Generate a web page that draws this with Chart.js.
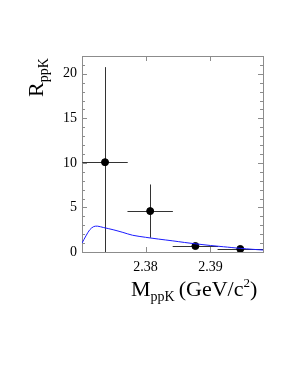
<!DOCTYPE html>
<html lang="en">
<head>
  <meta charset="UTF-8">
  <title>R ppK vs M ppK</title>
  <style>
    body { margin: 0; background: #fff; }
    #wrap { width: 291px; height: 376px; }
  </style>
  <script src="https://cdn.jsdelivr.net/npm/chart.js@4.4.0/dist/chart.umd.min.js"></script>
</head>
<body>
  <div id="wrap"><canvas id="chart" width="291" height="376"></canvas></div>
  <script>
    // measured points with errors
    const massPoints = [2.37375, 2.38071, 2.38768, 2.3946];
    const ratioValues = [10.08, 4.59, 0.67, 0.34];
    const ratioErrUp = [10.67, 2.99, 0.3, 0.25];
    const ratioErrDown = [10.08, 2.99, 0.3, 0.25];
    const massHalfWidth = [0.0035, 0.0035, 0.0035, 0.0035];

    // model curve
    const curveMass = [2.3702, 2.3708, 2.3714, 2.3720, 2.3726, 2.3735, 2.3750, 2.3765, 2.3780,
      2.3800, 2.3820, 2.3842, 2.3860, 2.3877, 2.3900, 2.3920, 2.3946, 2.3965, 2.3982];
    const curveRatio = [1.0, 1.8, 2.5, 2.85, 2.9, 2.75, 2.5, 2.2, 1.88,
      1.65, 1.45, 1.25, 1.07, 0.92, 0.73, 0.59, 0.41, 0.3, 0.22];

    const xTicks = [2.38, 2.39];
    const yTicks = [0, 5, 10, 15, 20];
    const yMinorTicks = [1, 2, 3, 4, 6, 7, 8, 9, 11, 12, 13, 14, 16, 17, 18, 19, 21];

    const serif = "'Liberation Serif', 'DejaVu Serif', serif";

    // frame, tick marks, error bars and axis titles
    const decorations = {
      id: 'decorations',
      beforeDatasetsDraw(chart) {
        const ctx = chart.ctx;
        const a = chart.chartArea;
        const xs = chart.scales.x;
        const ys = chart.scales.y;
        ctx.save();
        ctx.strokeStyle = '#8c8c8c';
        ctx.lineWidth = 1;
        ctx.strokeRect(a.left + 0.5, a.top + 0.5, a.right - a.left, a.bottom - a.top);
        ctx.beginPath();
        yTicks.forEach(v => {
          const y = Math.round(ys.getPixelForValue(v)) + 0.5;
          ctx.moveTo(a.left, y); ctx.lineTo(a.left + 5, y);
          ctx.moveTo(a.right, y); ctx.lineTo(a.right - 5, y);
        });
        yMinorTicks.forEach(v => {
          const y = Math.round(ys.getPixelForValue(v)) + 0.5;
          ctx.moveTo(a.left, y); ctx.lineTo(a.left + 3, y);
          ctx.moveTo(a.right, y); ctx.lineTo(a.right - 3, y);
        });
        xTicks.forEach(v => {
          const x = Math.round(xs.getPixelForValue(v)) + 0.5;
          ctx.moveTo(x, a.bottom); ctx.lineTo(x, a.bottom - 5);
          ctx.moveTo(x, a.top); ctx.lineTo(x, a.top + 5);
        });
        ctx.stroke();

        // error bars
        ctx.beginPath();
        ctx.rect(a.left, a.top, a.right - a.left, a.bottom - a.top);
        ctx.clip();
        ctx.strokeStyle = '#333';
        ctx.beginPath();
        massPoints.forEach((m, i) => {
          const x = Math.round(xs.getPixelForValue(m)) + 0.5;
          const y = Math.round(ys.getPixelForValue(ratioValues[i])) + 0.5;
          ctx.moveTo(x, ys.getPixelForValue(ratioValues[i] + ratioErrUp[i]));
          ctx.lineTo(x, ys.getPixelForValue(ratioValues[i] - ratioErrDown[i]));
          ctx.moveTo(xs.getPixelForValue(m - massHalfWidth[i]), y);
          ctx.lineTo(xs.getPixelForValue(m + massHalfWidth[i]), y);
        });
        ctx.stroke();
        ctx.restore();
      },
      afterDraw(chart) {
        const ctx = chart.ctx;
        ctx.save();
        ctx.fillStyle = '#000';
        ctx.textBaseline = 'alphabetic';
        // y title, rotated
        ctx.translate(43, 97);
        ctx.rotate(-Math.PI / 2);
        ctx.font = '22px ' + serif;
        ctx.fillText('R', 0, 0);
        const rw = ctx.measureText('R').width;
        ctx.font = '14px ' + serif;
        ctx.fillText('ppK', rw, 5);
        ctx.restore();

        // x title
        ctx.save();
        ctx.fillStyle = '#000';
        let x = 131;
        const base = 296;
        ctx.font = '22px ' + serif;
        ctx.fillText('M', x, base);
        x += ctx.measureText('M').width;
        ctx.font = '14px ' + serif;
        ctx.fillText('ppK', x, base + 5);
        x += ctx.measureText('ppK').width + 4;
        ctx.font = '22px ' + serif;
        ctx.fillText('(GeV/c', x, base);
        x += ctx.measureText('(GeV/c').width;
        ctx.font = '13px ' + serif;
        ctx.fillText('2', x, base - 9);
        x += ctx.measureText('2').width;
        ctx.font = '22px ' + serif;
        ctx.fillText(')', x, base);
        ctx.restore();
      }
    };

    new Chart(document.getElementById('chart'), {
      type: 'scatter',
      data: {
        datasets: [
          {
            type: 'line',
            data: curveMass.map((m, i) => ({ x: m, y: curveRatio[i] })),
            borderColor: '#1a1aff',
            borderWidth: 1,
            pointRadius: 0,
            tension: 0.3,
            fill: false
          },
          {
            data: massPoints.map((m, i) => ({ x: m, y: ratioValues[i] })),
            backgroundColor: '#000',
            borderColor: '#000',
            pointRadius: 3.5
          }
        ]
      },
      options: {
        responsive: false,
        animation: false,
        events: [],
        layout: { padding: { top: 56, right: 28, left: 0, bottom: 0 } },
        plugins: { legend: { display: false }, tooltip: { enabled: false } },
        scales: {
          x: {
            type: 'linear',
            min: 2.3702,
            max: 2.3981,
            grid: { display: false, tickLength: 0 },
            border: { display: false },
            afterBuildTicks: s => { s.ticks = xTicks.map(v => ({ value: v })); },
            afterFit: s => { s.height = 124; },
            ticks: {
              padding: 7,
              maxRotation: 0,
              color: '#000',
              font: { family: serif, size: 14 },
              callback: v => v.toFixed(2)
            }
          },
          y: {
            min: 0,
            max: 22,
            grid: { display: false, tickLength: 0 },
            border: { display: false },
            afterBuildTicks: s => { s.ticks = yTicks.map(v => ({ value: v })); },
            afterFit: s => { s.width = 82; },
            ticks: {
              padding: 5,
              color: '#000',
              font: { family: serif, size: 14 }
            }
          }
        }
      },
      plugins: [decorations]
    });
  </script>
</body>
</html>
